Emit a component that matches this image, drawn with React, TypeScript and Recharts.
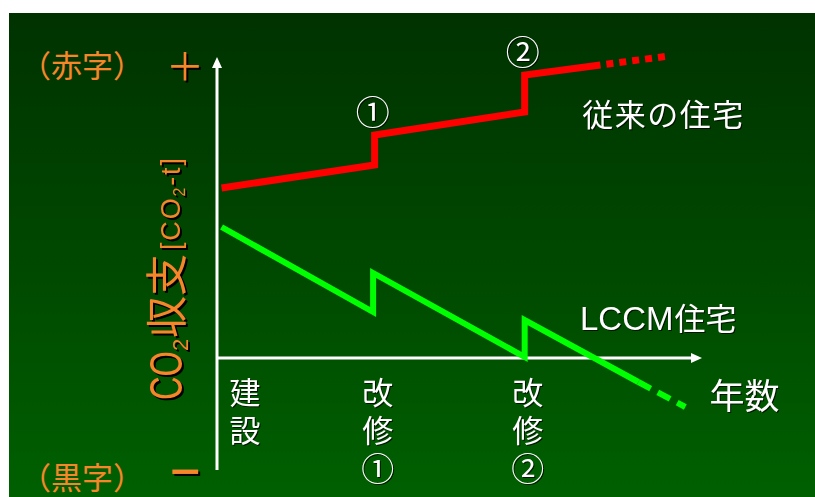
import { LineChart, Line, XAxis, YAxis, ReferenceLine, ReferenceDot } from "recharts"

// 従来の住宅: 実線部分と、その先の点線部分
const conventionalYears = [0.3, 10.4, 10.4, 20.3, 20.3, 25.3]
const conventionalBalance = [17.0, 19.3, 22.3, 24.6, 28.3, 29.3]
const conventionalFutureYears = [25.3, 29.8]
const conventionalFutureBalance = [29.3, 30.2]

// LCCM住宅
const lccmYears = [0.3, 10.3, 10.3, 20.3, 20.3, 27.8]
const lccmBalance = [13.1, 4.6, 8.5, 0.1, 3.8, -2.4]
const lccmFutureYears = [27.8, 30.9]
const lccmFutureBalance = [-2.4, -4.9]

// 横軸のイベント
const eventYears = [0, 10.4, 20.3]
const eventLabels = [["建", "設"], ["改", "修", "①"], ["改", "修", "②"]]
const jumpMarks = ["①", "②"]

const yearRange = [0, 32]
const balanceRange = [-12, 31]
const axisTop = 30.1
const axisBottom = -11.2

const toRows = (xs: number[], ys: number[]) => xs.map((x, i) => ({ x, y: ys[i] }))

const ORANGE = "#f7862a"
const CJK = "'Noto Sans CJK JP', sans-serif"
const LATIN = "'Liberation Sans', Arial, sans-serif"
const whiteShadow = { filter: "drop-shadow(1px 1px 0px rgba(0,0,0,0.75))" }
const blackShadow = { filter: "drop-shadow(2px 2px 0px #000)" }

export default function App() {
  const conventional = toRows(conventionalYears, conventionalBalance)
  const conventionalFuture = toRows(conventionalFutureYears, conventionalFutureBalance)
  const lccm = toRows(lccmYears, lccmBalance)
  const lccmFuture = toRows(lccmFutureYears, lccmFutureBalance)

  return (
    <div style={{ position: "absolute", left: 0, top: 0, width: 815, height: 497, background: "#fff" }}>
      <div
        style={{
          position: "absolute",
          left: 9,
          top: 13,
          width: 806,
          height: 484,
          background: "linear-gradient(180deg, #003200 0%, #004a00 55%, #006000 100%)",
        }}
      >
        <LineChart width={806} height={484} margin={{ top: 35, right: 113, bottom: 19, left: 208 }}>
          <XAxis type="number" dataKey="x" domain={yearRange} allowDataOverflow hide />
          <YAxis type="number" dataKey="y" domain={balanceRange} allowDataOverflow hide />

          {/* 軸 */}
          <ReferenceLine
            segment={[{ x: 0, y: axisBottom }, { x: 0, y: 29.2 }]}
            stroke="#fff"
            strokeWidth={3}
            ifOverflow="visible"
          />
          <ReferenceLine
            segment={[{ x: 0, y: 0 }, { x: 31.3, y: 0 }]}
            stroke="#fff"
            strokeWidth={3}
            ifOverflow="visible"
          />
          <ReferenceDot
            x={0}
            y={axisTop}
            ifOverflow="visible"
            shape={(p: any) => (
              <polygon points={`${p.cx},${p.cy} ${p.cx - 5},${p.cy + 11} ${p.cx + 5},${p.cy + 11}`} fill="#fff" />
            )}
          />
          <ReferenceDot
            x={yearRange[1]}
            y={0}
            ifOverflow="visible"
            shape={(p: any) => (
              <polygon points={`${p.cx},${p.cy} ${p.cx - 11},${p.cy - 5} ${p.cx - 11},${p.cy + 5}`} fill="#fff" />
            )}
          />

          <Line data={conventional} dataKey="y" stroke="#ff0000" strokeWidth={7} dot={false} activeDot={false} isAnimationActive={false} />
          <Line
            data={conventionalFuture}
            dataKey="y"
            stroke="#ff0000"
            strokeWidth={7}
            strokeDasharray="7 6"
            strokeDashoffset={7}
            dot={false}
            activeDot={false}
            isAnimationActive={false}
          />
          <Line data={lccm} dataKey="y" stroke="#00ff00" strokeWidth={6} dot={false} activeDot={false} isAnimationActive={false} />
          <Line
            data={lccmFuture}
            dataKey="y"
            stroke="#00ff00"
            strokeWidth={6}
            strokeDasharray="14 8"
            dot={false}
            activeDot={false}
            isAnimationActive={false}
          />

          {/* 縦軸の両端 */}
          <ReferenceDot
            x={0}
            y={axisTop}
            ifOverflow="visible"
            shape={(p: any) => (
              <g>
                <text x={p.cx - 135} y={p.cy + 6} fill={ORANGE} fontSize={31} fontFamily={CJK} textAnchor="middle" dominantBaseline="central">
                  （赤字）
                </text>
                <text x={p.cx - 32} y={p.cy + 6} fill={ORANGE} fontSize={38} fontFamily={CJK} textAnchor="middle" dominantBaseline="central" style={blackShadow}>
                  ＋
                </text>
              </g>
            )}
          />
          <ReferenceDot
            x={0}
            y={axisBottom}
            ifOverflow="visible"
            shape={(p: any) => (
              <g>
                <text x={p.cx - 135} y={p.cy + 5} fill={ORANGE} fontSize={31} fontFamily={CJK} textAnchor="middle" dominantBaseline="central">
                  （黒字）
                </text>
                <text
                  x={p.cx - 47}
                  y={p.cy + 15}
                  fill={ORANGE}
                  fontSize={40}
                  fontWeight="bold"
                  fontFamily={LATIN}
                  textLength={30}
                  lengthAdjust="spacingAndGlyphs"
                  style={blackShadow}
                >
                  −
                </text>
              </g>
            )}
          />

          {/* 縦軸タイトル */}
          <ReferenceDot
            x={0}
            y={0}
            ifOverflow="visible"
            shape={(p: any) => (
              <g style={blackShadow}>
                <g transform={`translate(${p.cx - 35},${p.cy + 42}) rotate(-90)`} fill={ORANGE}>
                  <text x={0} y={0} fontSize={46} fontFamily={LATIN} textLength={49} lengthAdjust="spacingAndGlyphs">
                    CO
                  </text>
                  <text x={49} y={6} fontSize={22} fontFamily={LATIN}>
                    2
                  </text>
                  <text x={62} y={0} fontSize={42} fontFamily={CJK}>
                    収支
                  </text>
                  <text x={150} y={-2} fontSize={27} fontFamily={LATIN} textLength={92} lengthAdjust="spacing">
                    [CO
                    <tspan fontSize={16} dy={5}>2</tspan>
                    <tspan dy={-5}>-t]</tspan>
                  </text>
                </g>
              </g>
            )}
          />

          {/* 横軸のラベル */}
          {eventYears.map((year, i) => (
            <ReferenceDot
              key={`event-${i}`}
              x={year}
              y={0}
              ifOverflow="visible"
              shape={(p: any) => (
                <g style={whiteShadow}>
                  {eventLabels[i].map((ch, j) => (
                    <text
                      key={j}
                      x={p.cx + (i === 0 ? 28 : 3)}
                      y={p.cy + 32 + j * 38.5}
                      fill="#fff"
                      fontSize={j === 2 ? 33 : 31}
                      fontFamily={CJK}
                      textAnchor="middle"
                      dominantBaseline="central"
                    >
                      {ch}
                    </text>
                  ))}
                </g>
              )}
            />
          ))}

          {/* 改修時の段差の番号 */}
          {jumpMarks.map((mark, i) => (
            <ReferenceDot
              key={`jump-${i}`}
              x={conventionalYears[2 + i * 2]}
              y={conventionalBalance[2 + i * 2]}
              ifOverflow="visible"
              shape={(p: any) => (
                <text
                  x={p.cx - 2}
                  y={p.cy - 25}
                  fill="#fff"
                  fontSize={34}
                  fontFamily={CJK}
                  textAnchor="middle"
                  dominantBaseline="central"
                  style={whiteShadow}
                >
                  {mark}
                </text>
              )}
            />
          ))}

          {/* 系列名と横軸タイトル */}
          <ReferenceDot
            x={24.1}
            y={24.6}
            ifOverflow="visible"
            shape={(p: any) => (
              <text x={p.cx} y={p.cy} fill="#fff" fontSize={31} fontFamily={CJK} letterSpacing={1.5} dominantBaseline="central" style={whiteShadow}>
                従来の住宅
              </text>
            )}
          />
          <ReferenceDot
            x={23.95}
            y={4.0}
            ifOverflow="visible"
            shape={(p: any) => (
              <text x={p.cx} y={p.cy + 12} fill="#fff" fontSize={33} fontFamily={LATIN} style={whiteShadow}>
                LCCM
                <tspan fontFamily={CJK} fontSize={31} dx={1}>住宅</tspan>
              </text>
            )}
          />
          <ReferenceDot
            x={32.5}
            y={-3.5}
            ifOverflow="visible"
            shape={(p: any) => (
              <text x={p.cx} y={p.cy} fill="#fff" fontSize={35} fontFamily={CJK} dominantBaseline="central" style={whiteShadow}>
                年数
              </text>
            )}
          />
        </LineChart>
      </div>
    </div>
  )
}
